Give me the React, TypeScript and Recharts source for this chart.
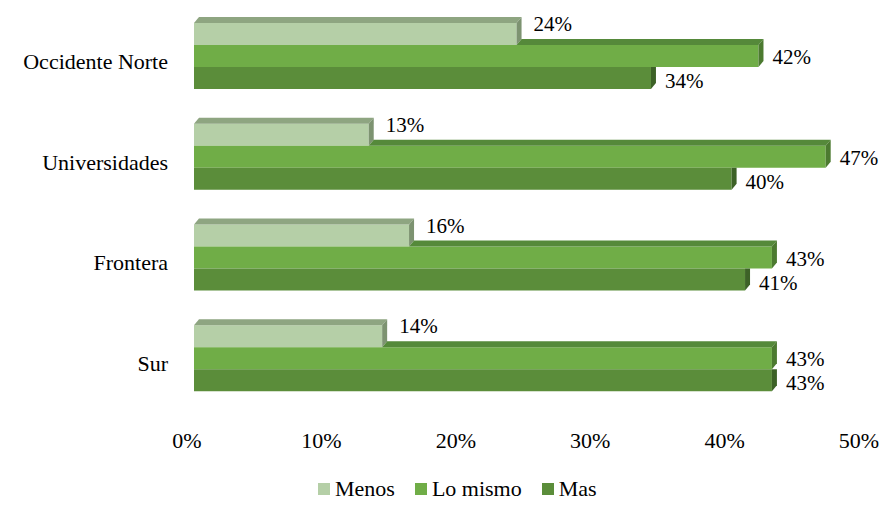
import React from 'react';
import { BarChart, Bar, XAxis, YAxis, Legend, LabelList } from 'recharts';

const categories = ['Occidente Norte', 'Universidades', 'Frontera', 'Sur'];
const menos = [24, 13, 16, 14];
const loMismo = [42, 47, 43, 43];
const mas = [34, 40, 41, 43];
const xTicks = [0, 10, 20, 30, 40, 50];
const seriesNames = ['Menos', 'Lo mismo', 'Mas'];

const data = categories.map((name, i) => ({
  name,
  menos: menos[i],
  loMismo: loMismo[i],
  mas: mas[i],
}));

const FONT =
  "'Liberation Serif', 'Times New Roman', Times, Tinos, 'Nimbus Roman', 'Nimbus Roman No9 L', FreeSerif, 'Noto Serif', 'DejaVu Serif', serif";
const FS = 22;
const LFS = 21;
const DX = 5;
const DY = 6;

type Pal = { front: string; top: string; side: string };
const palMenos: Pal = { front: '#B5CFA7', top: '#8EA581', side: '#7D9371' };
const palLo: Pal = { front: '#70AD47', top: '#55893A', side: '#4C7A30' };
const palMas: Pal = { front: '#5B8D3A', top: '#4A7630', side: '#3D6227' };

const txtStyle: React.CSSProperties = { fontFamily: FONT, fontSize: FS };
const lblStyle: React.CSSProperties = { fontFamily: FONT, fontSize: LFS };

function makeShape(key: string, prevKey: string | null, c: Pal) {
  return (props: any) => {
    const { x, y, width, height, payload } = props;
    if (width == null || !(width > 0)) return <g />;
    const v = payload[key];
    const pxPer = v ? width / v : 0;
    const prevW = prevKey ? payload[prevKey] * pxPer : 0;
    const xe = x + width;
    const yb = y + height;
    const xs = x + Math.min(prevW, width);
    const clipSide = prevKey != null && prevW >= width;
    const side = clipSide
      ? `${xe},${y} ${xe},${yb} ${xe + DX},${yb - DY} ${xe + DX},${y}`
      : `${xe},${y} ${xe + DX},${y - DY} ${xe + DX},${yb - DY} ${xe},${yb}`;
    return (
      <g>
        <rect x={x} y={y} width={width} height={height} fill={c.front} />
        {prevW < width && (
          <polygon
            points={`${xs},${y} ${xs + DX},${y - DY} ${xe + DX},${y - DY} ${xe},${y}`}
            fill={c.top}
          />
        )}
        <polygon points={side} fill={c.side} />
      </g>
    );
  };
}

function makeLabel(dxOff: number, dyOff: number) {
  return (props: any) => {
    const { x, y, width, height, value } = props;
    return (
      <text x={x + width + dxOff} y={y + height / 2 + dyOff} style={lblStyle} fill="#000">
        {`${value}%`}
      </text>
    );
  };
}

const YTick = (props: any) => {
  const { x, y, payload } = props;
  return (
    <text x={x} y={y + 12.5} textAnchor="end" style={txtStyle} fill="#000">
      {payload.value}
    </text>
  );
};

const XTick = (props: any) => {
  const { x, y, payload } = props;
  return (
    <text x={x - 7} y={y + 39} textAnchor="middle" style={txtStyle} fill="#000">
      {`${payload.value}%`}
    </text>
  );
};

const legendColors = [palMenos.front, palLo.front, palMas.front];

const LegendContent = () => (
  <div
    style={{
      height: 57,
      display: 'flex',
      alignItems: 'center',
      paddingLeft: 318,
      paddingTop: 22,
      boxSizing: 'border-box',
      fontFamily: FONT,
      fontSize: FS,
      color: '#000',
    }}
  >
    {seriesNames.map((n, i) => (
      <div key={n} style={{ display: 'flex', alignItems: 'center', marginRight: 20 }}>
        <div style={{ width: 12, height: 12, background: legendColors[i], marginRight: 5 }} />
        <span style={{ lineHeight: '22px' }}>{n}</span>
      </div>
    ))}
  </div>
);

export default function App() {
  return (
    <div style={{ position: 'absolute', left: 0, top: 0, background: '#fff', fontFamily: FONT }}>
      <BarChart
        width={883}
        height={506}
        data={data}
        layout="vertical"
        margin={{ top: 6, right: 17, bottom: 0, left: 0 }}
        barCategoryGap={17}
        barGap={0}
      >
        <XAxis
          type="number"
          domain={[0, 50]}
          ticks={xTicks}
          axisLine={false}
          tickLine={false}
          tickSize={0}
          tickMargin={0}
          height={40}
          tick={<XTick />}
          interval={0}
        />
        <YAxis
          type="category"
          dataKey="name"
          width={194}
          axisLine={false}
          tickLine={false}
          tickSize={0}
          tickMargin={26}
          tick={<YTick />}
          interval={0}
        />
        <Legend verticalAlign="bottom" content={<LegendContent />} />
        <Bar dataKey="menos" name="Menos" isAnimationActive={false} shape={makeShape('menos', null, palMenos)}>
          <LabelList dataKey="menos" content={makeLabel(17, -3)} />
        </Bar>
        <Bar dataKey="loMismo" name="Lo mismo" isAnimationActive={false} shape={makeShape('loMismo', 'menos', palLo)}>
          <LabelList dataKey="loMismo" content={makeLabel(14, 8)} />
        </Bar>
        <Bar dataKey="mas" name="Mas" isAnimationActive={false} shape={makeShape('mas', 'loMismo', palMas)}>
          <LabelList dataKey="mas" content={makeLabel(14, 10)} />
        </Bar>
      </BarChart>
    </div>
  );
}
